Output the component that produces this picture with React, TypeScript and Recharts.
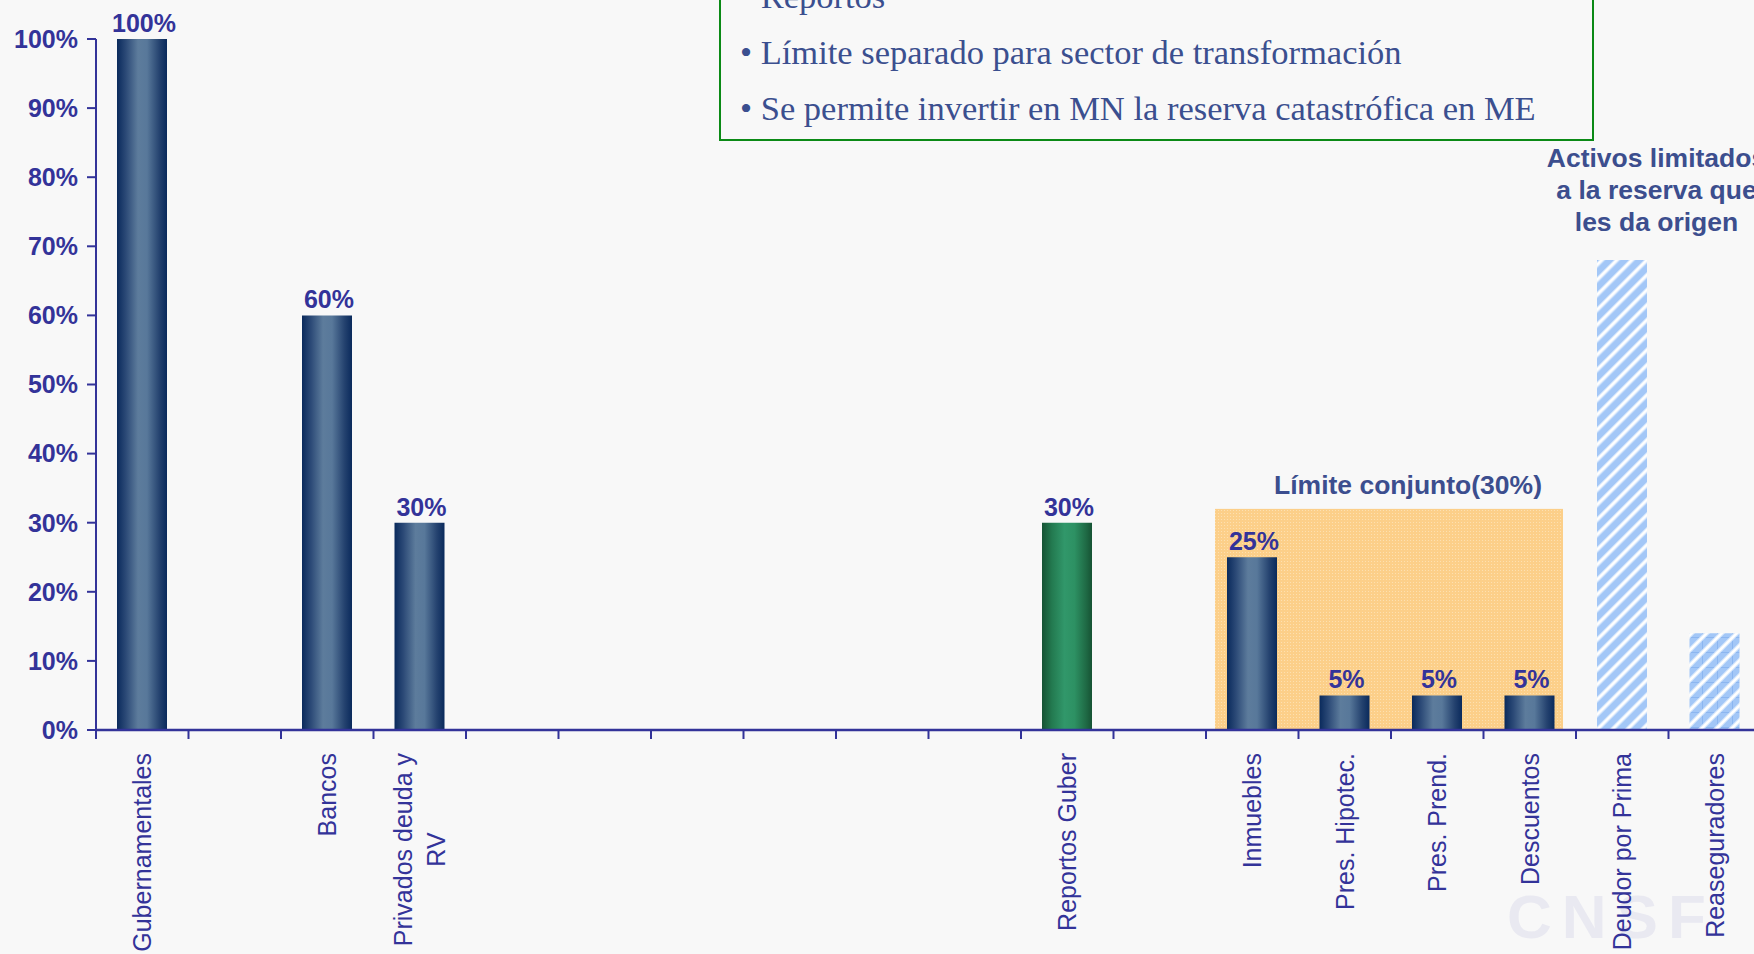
import React from 'react';
import { BarChart, Bar, XAxis, YAxis, Cell, LabelList, ReferenceArea } from 'recharts';

// ---------- data ----------
const categories = [
  'Gubernamentales', '', 'Bancos', 'Privados deuda y\nRV', '', '', '', '', '', '',
  'Reportos Guber', '', 'Inmuebles', 'Pres. Hipotec.', 'Pres. Prend.', 'Descuentos',
  'Deudor por Prima', 'Reaseguradores',
];
const limitValues = [100, null, 60, 30, null, null, null, null, null, null, 30, null, 25, 5, 5, 5, 68, 14];
const labelValues = [100, null, 60, 30, null, null, null, null, null, null, 30, null, 25, 5, 5, 5, null, null];
const barGroups = [
  'inv', null, 'inv', 'inv', null, null, null, null, null, null,
  'rep', null, 'inv', 'inv', 'inv', 'inv', 'lim', 'lim2',
];
const yTicks = [0, 10, 20, 30, 40, 50, 60, 70, 80, 90, 100];
const boxLines = [
  '• Reportos',
  '• Límite separado para sector de transformación',
  '• Se permite invertir en MN la reserva catastrófica en ME',
];
const jointLimitTitle = 'Límite conjunto(30%)';
const jointLimitFrom = 'Inmuebles';
const jointLimitTo = 'Descuentos';
const jointLimitTop = 32;
const restrictedFrom = 'Deudor por Prima';
const restrictedTo = 'Reaseguradores';
const restrictedNote = ['Activos limitados', 'a la reserva que', 'les da origen'];
const watermark = 'CNSF';

const data = categories.map((c, i) => ({
  key: c || `_${i}`,
  name: c,
  value: limitValues[i],
  label: labelValues[i],
  group: barGroups[i],
}));

// ---------- styles ----------
const W = 1765;
const H = 954;
const Y_AXIS_W = 96;
const MARGIN = { top: 39, right: 4, bottom: 0, left: 0 };
const X_AXIS_H = 224;
const BAND = (W - MARGIN.left - MARGIN.right - Y_AXIS_W) / categories.length;
const AXIS = '#333399';
const LABEL = '#333399';
const NOTE = '#3c4e8e';
const SANS = '"Liberation Sans", Arial, Helvetica, sans-serif';
const SERIF = '"Liberation Serif", "Times New Roman", serif';

const fillFor: Record<string, string> = {
  inv: 'url(#navyGrad)',
  rep: 'url(#greenGrad)',
  lim: 'url(#hatchA)',
  lim2: 'url(#hatchB)',
};

let ctx: CanvasRenderingContext2D | null = null;
function measure(text: string, font: string): number {
  if (!ctx) ctx = document.createElement('canvas').getContext('2d');
  if (!ctx) return text.length * 12;
  ctx.font = font;
  return ctx.measureText(text).width;
}

const XTick = (props: any) => {
  const { x, y, payload } = props;
  const d = data.find((e) => e.key === payload.value);
  const lines = d && d.name ? d.name.split('\n') : [];
  const fs = 25;
  const font = `${fs}px "Liberation Sans"`;
  const lh = 33;
  const w1 = lines.length ? measure(lines[0], font) : 0;
  return (
    <g transform={`translate(${x},${y})`}>
      <line x1={-BAND / 2} x2={-BAND / 2} y1={0} y2={9} stroke={AXIS} strokeWidth={2} />
      <g transform="translate(0,23) rotate(-90)">
        {lines.map((ln: string, j: number) => (
          <text
            key={j}
            x={j === 0 ? 0 : -w1 / 2}
            y={9 + (j - (lines.length - 1) / 2) * lh}
            textAnchor={j === 0 ? 'end' : 'middle'}
            fill={LABEL}
            fontSize={fs}
            fontFamily={SANS}
          >
            {ln}
          </text>
        ))}
      </g>
    </g>
  );
};

const renderValueLabel = (p: any) => {
  const vb = p.viewBox || p;
  const x = vb.x ?? p.x;
  const y = vb.y ?? p.y;
  const w = vb.width ?? p.width;
  if (p.value == null) return null;
  return (
    <text x={x + w / 2 + 2} y={y - 7} textAnchor="middle" fill={LABEL} fontSize={25} fontWeight={700} fontFamily={SANS}>
      {`${p.value}%`}
    </text>
  );
};

const JointShape = (p: any) => (
  <g>
    <rect x={p.x + 9} y={p.y} width={p.width - 22} height={p.height} fill="url(#orangeDots)" />
    <text x={p.x + p.width / 2 + 17} y={p.y - 15} textAnchor="middle" fill={NOTE} fontSize={26.5} fontWeight={700} fontFamily={SANS}>
      {jointLimitTitle}
    </text>
  </g>
);

const RestrictedShape = (p: any) => {
  const bottom = p.y + p.height;
  return (
    <g>
      {restrictedNote.map((t, i) => (
        <text
          key={i}
          x={p.x + p.width / 2 - 12}
          y={bottom - 93 + i * 32}
          textAnchor="middle"
          fill={NOTE}
          fontSize={26.5}
          fontWeight={700}
          fontFamily={SANS}
        >
          {t}
        </text>
      ))}
    </g>
  );
};

export default function App() {
  return (
    <div style={{ position: 'fixed', left: 0, top: 0, width: 1754, height: 954, overflow: 'hidden', background: '#f8f8f8' }}>
      <svg width={1754} height={954} style={{ position: 'absolute', left: 0, top: 0 }}>
        <text x={1507} y={938} fill="#e9e9f1" fontSize={62} fontWeight={700} fontFamily={SANS} letterSpacing={10}>
          {watermark}
        </text>
      </svg>
      <div style={{ position: 'absolute', left: 0, top: 0 }}>
        <BarChart width={W} height={H} data={data} margin={MARGIN} barSize={50}>
          <defs>
            <linearGradient id="navyGrad" x1="0" y1="0" x2="1" y2="0">
              <stop offset="0" stopColor="#0a2a5c" />
              <stop offset="0.18" stopColor="#2c4a77" />
              <stop offset="0.42" stopColor="#5d7c9c" />
              <stop offset="0.6" stopColor="#58789a" />
              <stop offset="0.85" stopColor="#24426f" />
              <stop offset="1" stopColor="#0a2a5c" />
            </linearGradient>
            <linearGradient id="greenGrad" x1="0" y1="0" x2="1" y2="0">
              <stop offset="0" stopColor="#165334" />
              <stop offset="0.2" stopColor="#237a50" />
              <stop offset="0.45" stopColor="#31976a" />
              <stop offset="0.65" stopColor="#2d9163" />
              <stop offset="0.88" stopColor="#1f6a45" />
              <stop offset="1" stopColor="#165334" />
            </linearGradient>
            <pattern id="hatchA" patternUnits="userSpaceOnUse" width="10.6" height="10.6" patternTransform="rotate(45)">
              <rect width="10.6" height="10.6" fill="#a3c7f7" />
              <rect x="0" width="4.5" height="10.6" fill="#d3e5fc" />
              <rect x="1" width="2.5" height="10.6" fill="#ffffff" />
            </pattern>
            <pattern id="hatchB" patternUnits="userSpaceOnUse" width="15" height="15">
              <rect width="15" height="15" fill="#a3c7f7" />
              <path d="M0,7.5 H15 M7.5,0 V15" stroke="#8cb6f0" strokeWidth="1" />
              <path d="M-4,4 L4,-4 M0,15 L15,0 M11,19 L19,11" stroke="#d6e7fc" strokeWidth="4.5" />
              <path d="M-4,4 L4,-4 M0,15 L15,0 M11,19 L19,11" stroke="#ffffff" strokeWidth="2.5" />
            </pattern>
            <pattern id="orangeDots" patternUnits="userSpaceOnUse" width="3" height="3">
              <rect width="3" height="3" fill="#fccf89" />
              <rect width="1" height="1" fill="#fde0b0" />
            </pattern>
          </defs>
          <ReferenceArea
            x1={jointLimitFrom}
            x2={jointLimitTo}
            y1={0}
            y2={jointLimitTop}
            shape={JointShape}
            ifOverflow="visible"
          />
          <ReferenceArea
            x1={restrictedFrom}
            x2={restrictedTo}
            y1={limitValues[categories.indexOf(restrictedFrom)] as number}
            y2={100}
            shape={RestrictedShape}
            ifOverflow="visible"
          />
          <XAxis
            dataKey="key"
            type="category"
            interval={0}
            height={X_AXIS_H}
            tickLine={false}
            tickSize={0}
            tickMargin={0}
            axisLine={{ stroke: AXIS, strokeWidth: 2.5 }}
            tick={<XTick />}
          />
          <YAxis
            width={Y_AXIS_W}
            domain={[0, 100]}
            ticks={yTicks}
            interval={0}
            tickFormatter={(v: number) => `${v}%`}
            axisLine={{ stroke: AXIS, strokeWidth: 2 }}
            tickLine={{ stroke: AXIS, strokeWidth: 2 }}
            tickSize={9}
            tickMargin={9}
            tick={{ fill: LABEL, fontSize: 25, fontWeight: 700, fontFamily: SANS }}
          />
          <Bar dataKey="value" isAnimationActive={false}>
            {data.map((d, i) => (
              <Cell key={i} fill={d.group ? fillFor[d.group] : 'none'} />
            ))}
            <LabelList dataKey="label" content={renderValueLabel} />
          </Bar>
        </BarChart>
      </div>
      <svg width={1754} height={954} style={{ position: 'absolute', left: 0, top: 0, pointerEvents: 'none' }}>
        <rect x={720} y={-100} width={873} height={240} fill="none" stroke="#0b8a16" strokeWidth={2} />
        {boxLines.map((t, i) => (
          <text key={i} x={740} y={8 + i * 56} fill="#3b4f8f" fontSize={34.5} fontFamily={SERIF}>
            {t}
          </text>
        ))}
      </svg>
    </div>
  );
}
